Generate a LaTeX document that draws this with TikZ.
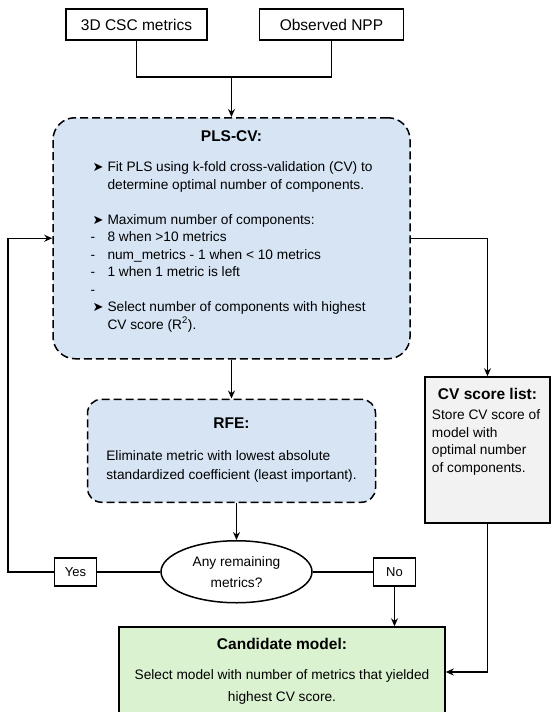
\documentclass[tikz,border=0pt]{standalone}
\usepackage{fontspec}
\setmainfont{Liberation Sans}
\newfontfamily\arrowfont{DejaVu Sans}
\usepackage{xcolor}
\usepackage{tikz}
\usetikzlibrary{
  positioning,
  calc,
  arrows.meta,
  shapes.geometric,
}
\definecolor{plsblue}{RGB}{214,228,244}
\definecolor{listgray}{RGB}{242,242,242}
\definecolor{candgreen}{RGB}{218,242,208}
\newcommand{\txtsize}{\fontsize{13.7}{17.5}\selectfont}
\newcommand{\hdsize}{\fontsize{15.5}{19}\selectfont\bfseries}
\newcommand{\bul}{\hspace{2pt}{\arrowfont\fontsize{13}{15}\selectfont ➤}}
\tikzset{
  meta box/.style={
    draw,
    black,
    line width=1.5pt,
    text centered
  },
  input box/.style={
    meta box,
    rectangle,
    minimum width=141pt,
    minimum height=31pt,
    font=\fontsize{15.5}{19}\selectfont
  },
  dash box/.style={
    meta box,
    rectangle,
    fill=plsblue,
    dash pattern=on 8pt off 4pt
  },
  list box/.style={
    meta box,
    rectangle,
    fill=listgray,
    minimum width=125pt,
    minimum height=146pt
  },
  result box/.style={
    meta box,
    rectangle,
    fill=candgreen,
    minimum width=326pt,
    minimum height=90pt
  },
  answer box/.style={
    meta box,
    rectangle,
    minimum width=42pt,
    minimum height=28pt,
    inner sep=2pt,
    font=\fontsize{13}{16}\selectfont
  }
}

\begin{document}
\begin{tikzpicture}[x=1pt, y=1pt, font=\txtsize, line width=1.5pt,
    >={Stealth[length=8pt, width=7pt]}]
  \useasboundingbox (0,0) rectangle (550,-712);

  \node[input box] (csc) at (136.5,-24.5) {3D CSC metrics};
  \node[input box, minimum width=144pt, right=51pt of csc] (npp) {Observed NPP};
  \coordinate (join) at (231.5,-77);

  \node[dash box, rounded corners=22pt, minimum width=357pt, minimum height=241pt,
        below=40pt of join] (pls) {%
    \begin{tabular}{@{}p{17pt}@{}l@{}}
      \multicolumn{2}{c}{\hdsize PLS-CV:}\\[12.5pt]
      \bul & Fit PLS using k-fold cross-validation (CV) to\\
           & determine optimal number of components.\\[17.5pt]
      \bul & Maximum number of components:\\
      -    & 8 when >10 metrics\\
      -    & num\_metrics - 1 when < 10 metrics\\
      -    & 1 when 1 metric is left\\
      -    & \\
      \bul & Select number of components with highest\\
           & CV score (R\textsuperscript{2}).\\[13pt]
    \end{tabular}};

  \node[dash box, rounded corners=14pt, minimum width=288pt, minimum height=103pt,
        below=39pt of pls] (rfe) {%
    \begin{tabular}{@{}l@{}}
      \multicolumn{1}{c}{\hdsize RFE:}\\[14.5pt]
      Eliminate metric with lowest absolute\\[1.5pt]
      standardized coefficient (least important).
    \end{tabular}};

  \node[meta box, ellipse, minimum width=151pt, minimum height=62pt, inner sep=0pt,
        align=center, below=37pt of rfe, xshift=5pt] (any) {Any remaining\\[3.5pt]metrics?};
  \node[answer box, left=63pt of any] (yes) {Yes};
  \node[answer box, right=60pt of any] (no) {No};

  %% CV scores and result
  \node[list box] (cvlist) at (487.5,-450) {%
    \begin{tabular}{@{}l@{}}
      \multicolumn{1}{c}{\hdsize CV score list:}\\[3pt]
      Store CV score of\\
      model with\\
      optimal number\\
      of components.\\[36pt]
    \end{tabular}};
  \node[result box] (cand) at (282,-672) {%
    \begin{tabular}{@{}c@{}}
      {\hdsize Candidate model:}\\[12.5pt]
      Select model with number of metrics that yielded\\[4.5pt]
      highest CV score.
    \end{tabular}};

  \draw (csc.south) |- (join) -| (npp.south);
  \draw[->] (join) -- (pls);
  \draw[->] (pls) -- (rfe);
  \draw[->] (rfe.south -| any) -- (any);
  \draw (any) -- (yes);
  \draw[->] (yes.west) -- ++(-46,0) |- (pls.west);
  \draw (any) -- (no);
  \draw[->] (no) -- (no |- cand.north);
  \draw[->] (pls.east) -| (cvlist.north);
  \draw[->] (cvlist.south) |- (cand.east);
\end{tikzpicture}
\end{document}
